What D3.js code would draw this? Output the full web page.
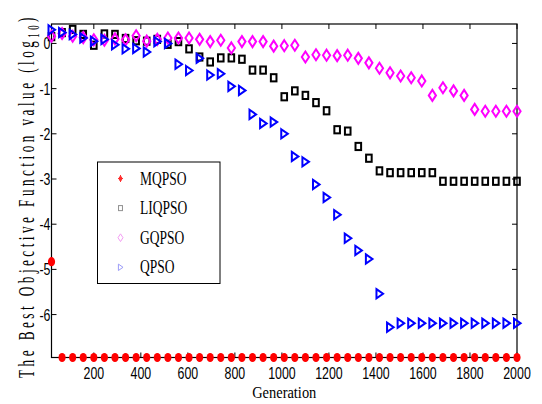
<!DOCTYPE html>
<html>
<head>
<meta charset="utf-8">
<script src="https://cdn.jsdelivr.net/npm/d3@7"></script>
<style>
  body { margin: 0; background: white; }
  svg { display: block; }
</style>
</head>
<body>
<div id="chart"></div>
<script>
// generations where markers are drawn
const generations = [20, 65, 110, 155, 200, 245, 290, 335, 380, 425, 470, 515, 560, 605, 650,
    695, 740, 785, 830, 875, 920, 965, 1010, 1055, 1100, 1145, 1190, 1235, 1280, 1325,
    1370, 1415, 1460, 1505, 1550, 1595, 1640, 1685, 1730, 1775, 1820, 1865, 1910, 1955, 2000];

const mqpso = [-4.83, -6.95, -6.95, -6.95, -6.95, -6.95, -6.95, -6.95, -6.95, -6.95, -6.95,
    -6.95, -6.95, -6.95, -6.95, -6.95, -6.95, -6.95, -6.95, -6.95, -6.95, -6.95, -6.95,
    -6.95, -6.95, -6.95, -6.95, -6.95, -6.95, -6.95, -6.95, -6.95, -6.95, -6.95, -6.95,
    -6.95, -6.95, -6.95, -6.95, -6.95, -6.95, -6.95, -6.95, -6.95, -6.95];

const liqpso = [0.15, 0.24, 0.31, 0.2, -0.04, 0.21, 0.2, 0.11, 0.06, 0.05, 0.09, -0.02, 0.04,
    -0.12, -0.3, -0.41, -0.32, -0.32, -0.35, -0.59, -0.59, -0.76, -1.18, -1.05, -1.15, -1.31,
    -1.49, -1.91, -1.94, -2.28, -2.54, -2.82, -2.86, -2.86, -2.86, -2.86, -2.86, -3.05, -3.05,
    -3.05, -3.05, -3.05, -3.05, -3.05, -3.05];

const gqpso = [0.16, 0.22, 0.16, 0.13, 0.08, 0.07, 0.1, 0.08, 0.17, 0.05, 0.09, 0.12, 0.12,
    0.12, 0.09, 0.04, 0.07, -0.1, 0.04, 0.04, 0.04, -0.06, -0.05, -0.04, -0.3, -0.25, -0.26,
    -0.27, -0.26, -0.33, -0.43, -0.55, -0.65, -0.72, -0.76, -0.83, -1.15, -0.98, -1.05, -1.15,
    -1.46, -1.5, -1.5, -1.5, -1.5];

const qpso = [0.3, 0.24, 0.2, 0.12, 0.05, 0.09, -0.03, -0.12, -0.11, -0.19, 0.04, 0, -0.46,
    -0.6, -0.33, -0.7, -0.67, -0.95, -1.04, -1.57, -1.77, -1.74, -2.0, -2.5, -2.62, -3.12,
    -3.41, -3.79, -4.31, -4.58, -4.77, -5.54, -6.28, -6.19, -6.19, -6.19, -6.19, -6.19, -6.19,
    -6.19, -6.19, -6.19, -6.19, -6.19, -6.19];

const seriesNames = ["MQPSO", "LIQPSO", "GQPSO", "QPSO"];
const xTicks = [200, 400, 600, 800, 1000, 1200, 1400, 1600, 1800, 2000];
const yTicks = [0, -1, -2, -3, -4, -5, -6];

const width = 542, height = 404;
const margin = {left: 51.5, right: 25, top: 24, bottom: 46.5};

const svg = d3.select("#chart").append("svg")
    .attr("width", width)
    .attr("height", height);

const x = d3.scaleLinear().domain([20, 2000]).range([margin.left, width - margin.right]);
const y = d3.scaleLinear().domain([-6.95, 0.43]).range([height - margin.bottom, margin.top]);

const x0 = x.range()[0], x1 = x.range()[1];
const y0 = y.range()[0], y1 = y.range()[1];
const narrow = 0.75;

// ticks (inward, on all four sides)
const tickLen = 5;
const ticks = svg.append("g").attr("stroke", "black").attr("stroke-width", 1);
xTicks.forEach(t => {
    ticks.append("line").attr("x1", x(t)).attr("x2", x(t)).attr("y1", y0).attr("y2", y0 - tickLen);
    ticks.append("line").attr("x1", x(t)).attr("x2", x(t)).attr("y1", y1).attr("y2", y1 + tickLen);
});
yTicks.forEach(t => {
    ticks.append("line").attr("x1", x0).attr("x2", x0 + tickLen).attr("y1", y(t)).attr("y2", y(t));
    ticks.append("line").attr("x1", x1).attr("x2", x1 - tickLen).attr("y1", y(t)).attr("y2", y(t));
});

// frame
svg.append("rect")
    .attr("x", x0).attr("y", y1)
    .attr("width", x1 - x0).attr("height", y0 - y1)
    .attr("fill", "none").attr("stroke", "black").attr("stroke-width", 1.2);

// tick labels
const tickFont = "'Liberation Sans', Arial, sans-serif";
xTicks.forEach(t => {
    svg.append("text")
        .attr("transform", `translate(${x(t)},${y0 + 21}) scale(${narrow},1)`)
        .attr("text-anchor", "middle")
        .style("font-family", tickFont)
        .style("font-size", "16.5px")
        .text(t);
});
yTicks.forEach(t => {
    svg.append("text")
        .attr("transform", `translate(${x0 - 1},${y(t) + 6}) scale(${narrow},1)`)
        .attr("text-anchor", "end")
        .style("font-family", tickFont)
        .style("font-size", "16.5px")
        .text(t);
});

// markers
function marker(g, type, color, s, sw) {
    if (type === "MQPSO") {
        g.append("ellipse").attr("rx", 3.6 * s).attr("ry", 4.6 * s).attr("fill", color);
    } else if (type === "LIQPSO") {
        g.append("rect").attr("x", -2.8 * s).attr("y", -3.6 * s)
            .attr("width", 5.6 * s).attr("height", 7.2 * s)
            .attr("fill", "none").attr("stroke", color).attr("stroke-width", sw);
    } else if (type === "GQPSO") {
        g.append("path")
            .attr("d", `M0,${-5.5 * s}L${3.6 * s},0L0,${5.5 * s}L${-3.6 * s},0Z`)
            .attr("fill", "none").attr("stroke", color).attr("stroke-width", sw);
    } else {
        g.append("path")
            .attr("d", `M${-3 * s},${-4.6 * s}L${3.6 * s},0L${-3 * s},${4.6 * s}Z`)
            .attr("fill", "none").attr("stroke", color).attr("stroke-width", sw);
    }
}

const series = [
    {name: "MQPSO", values: mqpso, color: "#ff0000"},
    {name: "LIQPSO", values: liqpso, color: "#000000"},
    {name: "GQPSO", values: gqpso, color: "#ff00ff"},
    {name: "QPSO", values: qpso, color: "#0000ff"}
];

series.forEach(s => {
    svg.append("g").selectAll("g")
        .data(s.values)
        .enter()
        .append("g")
        .attr("transform", (d, i) => `translate(${x(generations[i])},${y(d)})`)
        .each(function () {
            marker(d3.select(this), s.name, s.color, 1, 2);
        });
});

// legend
const legend = svg.append("g");
legend.append("rect")
    .attr("x", 97.5).attr("y", 162)
    .attr("width", 122.5).attr("height", 121.5)
    .attr("fill", "white").attr("stroke", "black").attr("stroke-width", 1);

const legendColors = ["#ff3030", "#909090", "#f49cf4", "#9c9cf8"];
seriesNames.forEach((name, i) => {
    const ly = 178.5 + i * 29.6;
    const g = legend.append("g").attr("transform", `translate(120.5,${ly})`);
    if (name === "MQPSO") {
        g.append("ellipse").attr("rx", 1.8).attr("ry", 2.6).attr("fill", "#ff3030");
        g.append("line").attr("x1", -2.5).attr("x2", 2.5).attr("stroke", "#ff3030").attr("stroke-width", 1);
        g.append("line").attr("y1", -3.5).attr("y2", 3.5).attr("stroke", "#ff3030").attr("stroke-width", 1);
    } else {
        marker(g, name, legendColors[i], 0.7, 1);
    }
    legend.append("text")
        .attr("transform", `translate(140,${ly + 6}) scale(${narrow},1)`)
        .style("font-family", "'Liberation Serif', 'Times New Roman', serif")
        .style("font-size", "18px")
        .text(name);
});

// axis titles
svg.append("text")
    .attr("transform", `translate(${(x0 + x1) / 2},398) scale(0.85,1)`)
    .attr("text-anchor", "middle")
    .style("font-family", "'Liberation Serif', 'Times New Roman', serif")
    .style("font-size", "17px")
    .text("Generation");

const yLabel = svg.append("text")
    .attr("text-anchor", "middle")
    .style("font-family", "'Liberation Serif', 'Times New Roman', serif")
    .style("font-size", "24px");
yLabel.append("tspan").text("The Best Objective Function value (log");
yLabel.append("tspan").attr("dy", 5).style("font-size", "16px").text("10");
yLabel.append("tspan").attr("dy", -5).text(")");

// spread the title along the axis height
const sx = 0.55;
const targetLen = 364 / sx;
const rawLen = yLabel.node().getComputedTextLength();
const nChars = "The Best Objective Function value (log10)".length;
yLabel.style("letter-spacing", ((targetLen - rawLen) / nChars) + "px");
yLabel.attr("transform", `translate(34,196) rotate(-90) scale(${sx},1)`);
</script>
</body>
</html>
